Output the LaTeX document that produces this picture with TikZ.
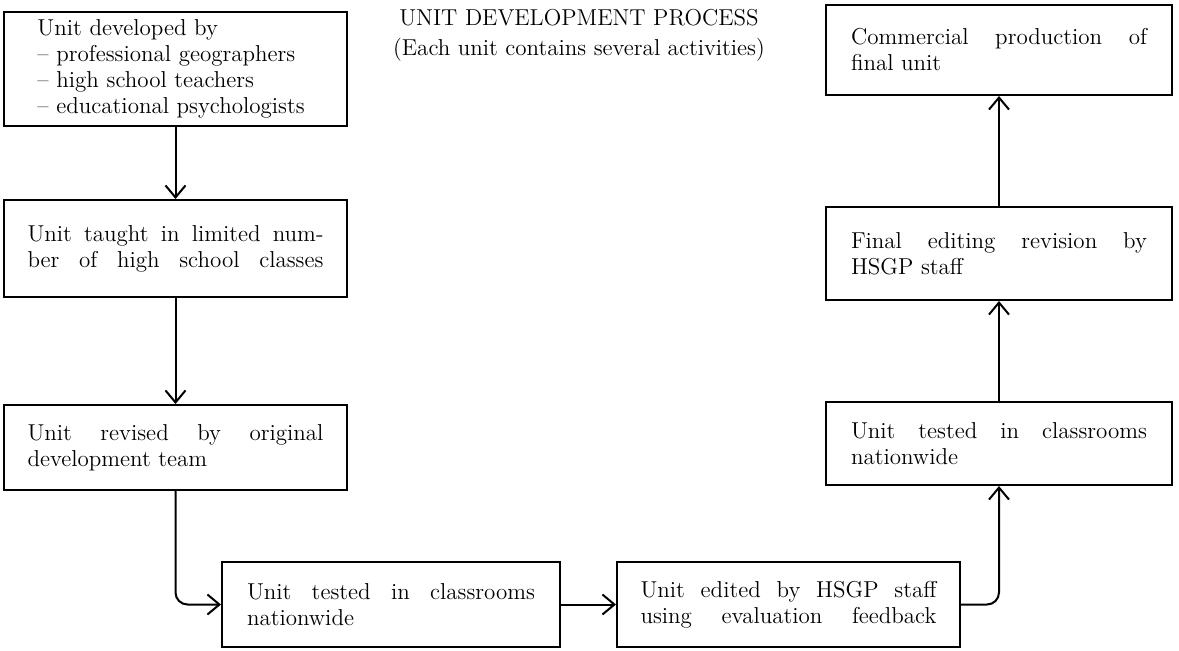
\documentclass[tikz,border=0pt]{standalone}
\usetikzlibrary{arrows.meta}
\begin{document}
\begin{tikzpicture}[x=0.5pt, y=-0.5pt, font=\fontsize{11.5}{13}\selectfont,
	stage/.style={draw, line width=1pt, text width=148pt, align=left, minimum width=171.5pt, inner sep=0pt},
	flow/.style={-{Straight Barb[length=6pt, width=10pt]}, line width=1pt}]
	\useasboundingbox (0,0) rectangle (1179,650);
	\node (T) at (579,18) {UNIT DEVELOPMENT PROCESS};
	\node (S) at (579,50) {(Each unit contains several activities)};
	\node[stage, text width=138pt, minimum height=57pt] (D) at (175.5,69) {Unit developed by\\ -- professional geographers\\ -- high school teachers\\ -- educational psychologists};
	\node[stage, minimum height=48.5pt] (L) at (175.5,248.5) {Unit\hfill taught\hfill in\hfill limited\hfill num-\\ ber\hfill of\hfill high\hfill school\hfill classes};
	\node[stage, minimum height=42.5pt] (R) at (175.5,447.5) {Unit\hfill revised\hfill by\hfill original\\ development team};
	\node[stage, text width=144pt, minimum width=169pt, minimum height=42.5pt] (N1) at (391,604.5) {Unit\hfill tested\hfill in\hfill classrooms\\ nationwide};
	\node[stage, minimum height=42.5pt] (E) at (788.5,604.5) {Unit\hfill edited\hfill by\hfill HSGP\hfill staff\\ using\hfill evaluation\hfill feedback};
	\node[stage, minimum width=173pt, minimum height=41.5pt] (N2) at (999,443.5) {Unit\hfill tested\hfill in\hfill classrooms\\ nationwide};
	\node[stage, minimum width=173pt, minimum height=46.5pt] (F) at (999,253.5) {Final\hfill editing\hfill revision\hfill by\\ HSGP staff};
	\node[stage, minimum width=173pt, minimum height=45pt] (C) at (999,50) {Commercial\hfill production\hfill of\\ final unit};
	\draw[flow] (D) -- (L);
	\draw[flow] (L) -- (R);
	\draw[flow, rounded corners=6pt] (R.south) |- (N1.west);
	\draw[flow] (N1) -- (E);
	\draw[flow, rounded corners=6pt] (E.east) -| (N2.south);
	\draw[flow] (N2) -- (F);
	\draw[flow] (F) -- (C);
\end{tikzpicture}
\end{document}
